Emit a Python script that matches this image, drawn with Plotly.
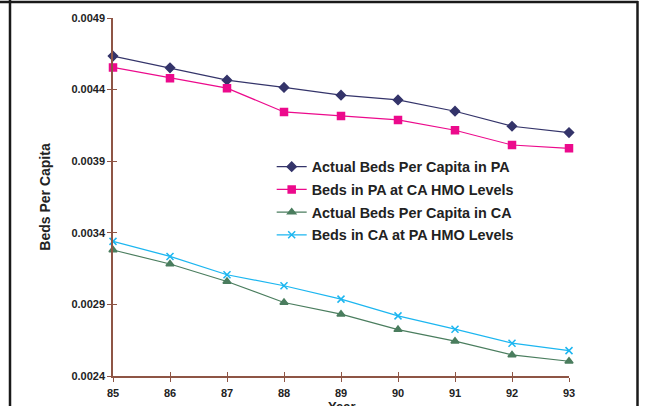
import plotly.graph_objects as go

# Hospital beds per capita, 1985-1993
years = [85, 86, 87, 88, 89, 90, 91, 92, 93]
actual_pa = [0.004634, 0.004552, 0.004466, 0.004415, 0.004361, 0.004328, 0.004249, 0.004144, 0.004100]
pa_at_ca_hmo = [0.004555, 0.004480, 0.004410, 0.004244, 0.004216, 0.004188, 0.004116, 0.004013, 0.003990]
actual_ca = [0.003280, 0.003182, 0.003060, 0.002913, 0.002832, 0.002724, 0.002643, 0.002547, 0.002503]
ca_at_pa_hmo = [0.003340, 0.003235, 0.003107, 0.003030, 0.002937, 0.002820, 0.002727, 0.002629, 0.002577]

y_ticks = [0.0024, 0.0029, 0.0034, 0.0039, 0.0044, 0.0049]
y_tick_text = ["0.0024", "0.0029", "0.0034", "0.0039", "0.0044", "0.0049"]

series = [
    ("Actual Beds Per Capita in PA", actual_pa, "#34346A", "diamond", 7),
    ("Beds in PA at CA HMO Levels", pa_at_ca_hmo, "#EC0A8C", "square", 7),
    ("Actual Beds Per Capita in CA", actual_ca, "#4A7D5E", "triangle-up", 7),
    ("Beds in CA at PA HMO Levels", ca_at_pa_hmo, "#1CB6F0", "x-thin-open", 7),
]

FONT = "Arial, 'Liberation Sans', sans-serif"
AXIS = "#8E5545"
TEXT = "#222222"

fig = go.Figure()
for i, (name, vals, color, symbol, size) in enumerate(series):
    fig.add_trace(go.Scatter(
        x=years, y=vals, name=name, mode="lines+markers",
        legendgroup=f"g{i}",
        line=dict(color=color, width=1.2),
        marker=dict(symbol=symbol, size=size, color=color,
                    line=dict(color=color, width=1.5)),
        cliponaxis=False,
    ))

# invisible trace that carries the overlay axes (inner half of the cross ticks)
fig.add_trace(go.Scatter(x=[years[0]], y=[y_ticks[0]], xaxis="x2", yaxis="y2",
                         mode="markers", marker=dict(opacity=0),
                         showlegend=False, hoverinfo="skip"))

# plotting-area geometry in pixels, used for the frame and the x title
plot_w, plot_h = 647 - 113 - 78, 406 - 18 - 30
def px_x(p):
    return (p - 113) / plot_w
def px_y(p):
    return (406 - 30 - p) / plot_h

fig.update_layout(
    width=647, height=406,
    margin=dict(l=113, r=78, t=18, b=30, autoexpand=False),
    paper_bgcolor="white", plot_bgcolor="white",
    font=dict(family=FONT, color=TEXT),
    showlegend=True,
    legend=dict(
        x=0.348, y=0.629, xanchor="left", yanchor="top",
        font=dict(family=FONT, size=14.4, color=TEXT, weight="bold"),
        bgcolor="rgba(0,0,0,0)", tracegroupgap=1,
    ),
    xaxis=dict(
        range=[85, 93], tickvals=years, ticktext=[str(y) for y in years],
        automargin=False,
        showgrid=False, zeroline=False, showline=True, linecolor=AXIS, linewidth=1.5,
        ticks="outside", ticklen=4, tickcolor=AXIS, tickwidth=1.2,
        ticklabelstandoff=2,
        tickfont=dict(family=FONT, size=11, color=TEXT, weight="bold"),
    ),
    yaxis=dict(
        range=[0.0024, 0.0049], tickvals=y_ticks, ticktext=y_tick_text,
        automargin=False,
        showgrid=False, zeroline=False, showline=True, linecolor=AXIS, linewidth=1.5,
        ticks="outside", ticklen=4, tickcolor=AXIS, tickwidth=1.2,
        tickfont=dict(family=FONT, size=11, color=TEXT, weight="bold"),
        title=dict(text="Beds Per Capita", standoff=17,
                   font=dict(family=FONT, size=14, color=TEXT, weight="bold")),
    ),
    xaxis2=dict(
        overlaying="x", anchor="y2", range=[85, 93], tickvals=years,
        automargin=False,
        showticklabels=False, showgrid=False, zeroline=False, showline=False,
        ticks="inside", ticklen=4, tickcolor=AXIS, tickwidth=1.2,
    ),
    yaxis2=dict(
        overlaying="y", anchor="x2", range=[0.0024, 0.0049], tickvals=y_ticks,
        automargin=False,
        showticklabels=False, showgrid=False, zeroline=False, showline=False,
        ticks="inside", ticklen=4, tickcolor=AXIS, tickwidth=1.2,
    ),
)

# x axis title, sitting just under the year labels
fig.add_annotation(text="<b>Year</b>", xref="paper", yref="paper",
                   x=0.5, y=px_y(397), xanchor="center", yanchor="top",
                   showarrow=False, font=dict(family=FONT, size=13, color=TEXT))

frame = dict(color="#1a1a1a", width=2.5)
fig.add_shape(type="line", xref="paper", yref="paper",
              x0=px_x(-2), x1=px_x(638), y0=px_y(2), y1=px_y(2), line=frame)
fig.add_shape(type="line", xref="paper", yref="paper",
              x0=px_x(10), x1=px_x(10), y0=px_y(0), y1=px_y(410), line=frame)
fig.add_shape(type="line", xref="paper", yref="paper",
              x0=px_x(637.5), x1=px_x(637.5), y0=px_y(1), y1=px_y(410), line=frame)

fig.write_html("out.html")
